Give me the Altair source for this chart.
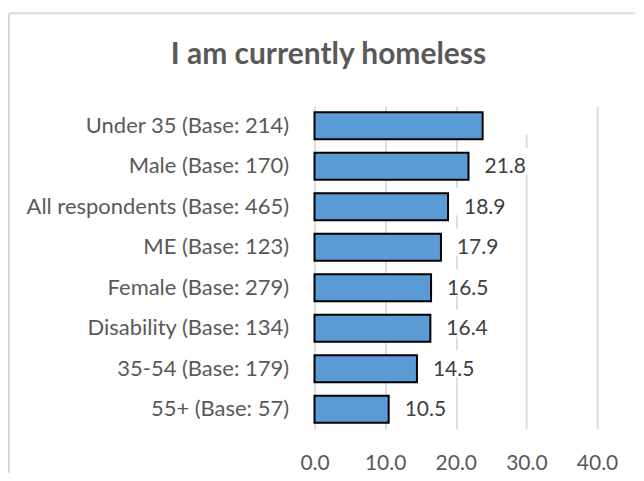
import altair as alt
import pandas as pd

categories = [
    "Under 35 (Base: 214)",
    "Male (Base: 170)",
    "All respondents (Base: 465)",
    "ME (Base: 123)",
    "Female (Base: 279)",
    "Disability (Base: 134)",
    "35-54 (Base: 179)",
    "55+ (Base: 57)",
]
values = [23.8, 21.8, 18.9, 17.9, 16.5, 16.4, 14.5, 10.5]
value_labels = ["", "21.8", "18.9", "17.9", "16.5", "16.4", "14.5", "10.5"]
x_ticks = [0, 10, 20, 30, 40]
chart_title = ["I am currently homeless"]

df = pd.DataFrame({"category": categories, "value": values, "label": value_labels})
title_df = pd.DataFrame({"t": chart_title})

FONT = "Lato"
TXT = "#595959"

y_enc = alt.Y(
    "category:N",
    sort=categories,
    title=None,
    scale=alt.Scale(paddingInner=0.333, paddingOuter=0.15),
    axis=alt.Axis(
        labelFont=FONT, labelFontSize=22, labelColor=TXT, labelPadding=26,
        ticks=False, domain=False, grid=False, labelLimit=400,
    ),
)
x_enc = alt.X(
    "value:Q",
    title=None,
    scale=alt.Scale(domain=[0, 40], nice=False),
    axis=alt.Axis(
        values=x_ticks, format=".1f", labelFont=FONT, labelFontSize=21,
        labelColor=TXT, labelPadding=24, ticks=False, domain=False,
        labelFlush=False, labelOverlap=False,
        grid=True, gridColor="#d9d9d9", gridWidth=1.75,
    ),
)

frame_top = alt.Chart(title_df).mark_rule(color="#d9d9d9", strokeWidth=2).encode(
    x=alt.value(-306), x2=alt.value(321), y=alt.value(-93)
)
frame_left = alt.Chart(title_df).mark_rule(color="#d9d9d9", strokeWidth=2).encode(
    x=alt.value(-306), y=alt.value(-93), y2=alt.value(367)
)

title = alt.Chart(title_df).mark_text(
    align="center", baseline="alphabetic", font=FONT, fontSize=30,
    fontWeight="bold", color=TXT,
).encode(x=alt.value(14), y=alt.value(-42), text="t:N")

# white label boxes (as in the original, they mask the gridlines behind the labels)
label_boxes = alt.Chart(df).mark_rect(
    color="white", xOffset=8, x2Offset=60, yOffset=-5, y2Offset=6
).encode(
    x="value:Q", x2="value:Q", y=alt.Y("category:N", sort=categories)
)

bars = alt.Chart(df).mark_bar(
    color="#5b9bd5", stroke="black", strokeWidth=2
).encode(x=x_enc, y=y_enc)

labels = alt.Chart(df).mark_text(
    align="left", baseline="middle", dx=16, dy=1, font=FONT, fontSize=21, color="#404040"
).encode(x="value:Q", y=alt.Y("category:N", sort=categories), text="label:N")

chart = alt.layer(frame_top, frame_left, title, bars, label_boxes, labels).properties(
    width=283,
    height=323,
    padding={"left": 0, "top": 4, "right": 0, "bottom": 0},
).configure_view(stroke=None)

chart.save("out.html", embed_options={"renderer": "svg", "actions": False})
